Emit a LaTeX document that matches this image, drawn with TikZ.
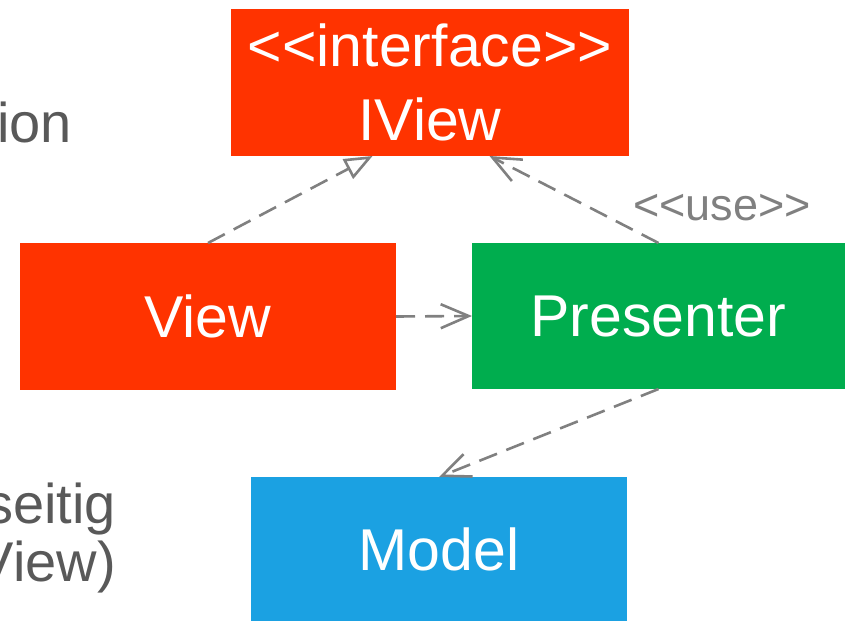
\documentclass[tikz,border=0pt]{standalone}
\usepackage{fontspec}
\setmainfont{Liberation Sans}
\usetikzlibrary{arrows.meta}

\definecolor{mvpred}{HTML}{FF3300}
\definecolor{mvpgreen}{HTML}{00AD4E}
\definecolor{mvpblue}{HTML}{1BA1E2}
\definecolor{notegray}{HTML}{595959}
\definecolor{linegray}{HTML}{808080}

% plain << and >> (no guillemet ligature)
\newcommand{\stereo}[1]{<\kern0pt<#1>\kern0pt>}

\tikzstyle{klass}=[text=white, inner sep=0pt, outer sep=0pt, minimum width=376pt, minimum height=147pt, align=center, font=\fontsize{59}{74}\selectfont]
\tikzstyle{note}=[text=notegray, inner sep=0pt, font=\fontsize{56}{59}\selectfont]
\tikzstyle{dep}=[linegray, line width=2.6pt, dash pattern=on 19pt off 10pt, -{Straight Barb[length=28pt, width=24pt, line width=2.6pt]}]
\tikzstyle{impl}=[linegray, line width=2.6pt, dash pattern=on 19pt off 10pt, -{Triangle[open, fill=white, length=28pt, width=22pt, line width=2.6pt]}]

\begin{document}
\begin{tikzpicture}[x=1pt, y=1pt]
      \useasboundingbox (0, 0) rectangle (845, 622);

      \node[klass, fill=mvpred, minimum width=398pt] (iview) at (430, 539.5) {\stereo{interface}\\IView};
      \node[klass, fill=mvpred] (view) at (208, 305.5) {View};
      \node[klass, fill=mvpgreen, minimum width=373pt, minimum height=146pt] (presenter) at (658.5, 306) {Presenter};
      \node[klass, fill=mvpblue, minimum height=144pt] (model) at (439, 73) {Model};

      \node[note, anchor=base east] (n1) at (72, 479) {ion};
      \node[note, anchor=base east] (n2) at (116, 99) {seitig};
      \node[note, anchor=base east] (n3) at (116, 41) {View)};
      \node[note, text=linegray, font=\fontsize{45}{50}\selectfont] (use) at (722, 414) {\stereo{use}};

      \draw[impl] (view.north) to (iview.232);
      \draw[dep] (presenter.north) to (iview.309);
      \draw[dep] (view.east) to (presenter.west);
      \draw[dep] (presenter.south) to (model.north);
    \end{tikzpicture}
\end{document}
